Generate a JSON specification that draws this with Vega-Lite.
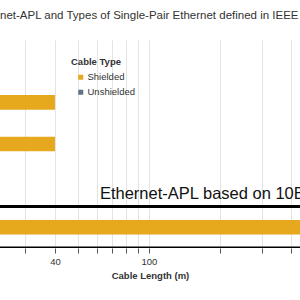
{
  "$schema": "https://vega.github.io/schema/vega-lite/v6.json",
  "width": 300,
  "height": 208,
  "autosize": {"type": "none"},
  "padding": {"top": 40, "left": 0, "right": 0, "bottom": 52},
  "background": "white",
  "config": {
    "view": {"stroke": null},
    "font": "Liberation Sans"
  },
  "title": {
    "text": "Ethernet-APL and Types of Single-Pair Ethernet defined in IEEE 802.3",
    "anchor": "start",
    "frame": "group",
    "dx": -27.5,
    "fontSize": 11.5,
    "fontWeight": "normal",
    "color": "#333333",
    "baseline": "alphabetic",
    "offset": 10
  },
  "datasets": {
    "cables": [
      {"standard": "100BASE-T1", "type": "Unshielded", "length": 15},
      {"standard": "1000BASE-T1 Type B", "type": "Shielded", "length": 40},
      {"standard": "100BASE-T1 Shielded", "type": "Shielded", "length": 40},
      {"standard": "10BASE-T1L", "type": "Shielded", "length": 1000}
    ],
    "notes": [
      {"standard": "10BASE-T1L", "label": "Ethernet-APL based on 10BASE-T1L"}
    ]
  },
  "encoding": {
    "y": {
      "field": "standard",
      "type": "nominal",
      "scale": {
        "domain": ["100BASE-T1", "1000BASE-T1 Type B", "100BASE-T1 Shielded", "gap", "10BASE-T1L"],
        "padding": 0
      },
      "axis": null
    }
  },
  "layer": [
    {
      "mark": {"type": "rule", "color": "#8c8c8c", "strokeWidth": 1.3},
      "encoding": {"x": {"datum": 100, "type": "quantitative"}, "y": null}
    },
    {
      "data": {"name": "cables"},
      "mark": {"type": "bar", "clip": true, "height": {"band": 0.35}},
      "encoding": {
        "x": {
          "field": "length",
          "type": "quantitative",
          "scale": {"type": "log", "domain": [23.41, 435.8], "nice": false},
          "axis": {
            "title": "Cable Length (m)",
            "titleFontSize": 9.5,
            "titleFontWeight": "bold",
            "titleColor": "#333333",
            "titlePadding": 5,
            "values": [30, 40, 50, 60, 70, 80, 90, 100, 200, 300, 400],
            "labelExpr": "datum.value == 40 || datum.value == 100 ? datum.label : ''",
            "labelFontSize": 9.5,
            "labelColor": "#333333",
            "labelPadding": 3,
            "labelFlush": false,
            "labelOverlap": false,
            "tickSize": 5,
            "tickColor": "#555555",
            "domain": false,
            "grid": true,
            "gridColor": "#e3e3e3",
            "gridWidth": 1
          }
        },
        "x2": {"datum": 1},
        "color": {
          "field": "type",
          "type": "nominal",
          "scale": {"domain": ["Shielded", "Unshielded"], "range": ["#E6A81D", "#5E7384"]},
          "legend": {
            "title": "Cable Type",
            "orient": "none",
            "legendX": 71,
            "legendY": 17,
            "padding": 0,
            "titleFontSize": 9.5,
            "titleFontWeight": "bold",
            "titleColor": "#333333",
            "titlePadding": 6,
            "labelFontSize": 9.5,
            "labelColor": "#333333",
            "labelOffset": 2,
            "symbolType": "square",
            "symbolSize": 25,
            "symbolOffset": 5,
            "symbolStrokeWidth": 0,
            "rowPadding": 4
          }
        }
      }
    },
    {
      "data": {"name": "notes"},
      "mark": {"type": "text", "align": "left", "baseline": "alphabetic", "fontSize": 16.5, "color": "#111111", "dy": -28},
      "encoding": {
        "x": {"datum": 62, "type": "quantitative"},
        "text": {"field": "label"}
      }
    },
    {
      "data": {"name": "notes"},
      "mark": {"type": "rect", "fill": null, "stroke": "black", "strokeWidth": 3, "clip": true},
      "encoding": {
        "x": {"datum": 1, "type": "quantitative"},
        "x2": {"datum": 100000}
      }
    }
  ]
}
